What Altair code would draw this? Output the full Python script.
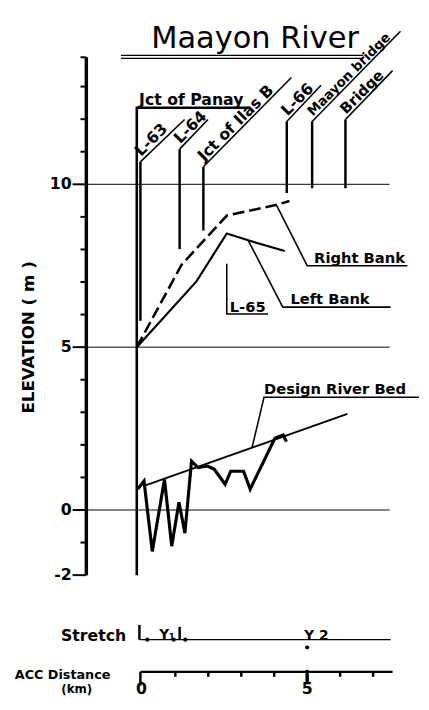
import altair as alt
import pandas as pd

# ---------------- data (distance in km, elevation in m) ----------------
TITLE = "Maayon River"

Y_MINOR = [-1, 1, 2, 3, 4, 6, 7, 8, 9, 11, 12, 13]
Y_LABELS = [10, 5, 0, -2]
Y_TOP = 13.9
GRID_Y = [10, 5, 0]
X_MINOR = [1, 2, 3, 4, 6, 7]
X_LABELS = [0, 5]
X_END = 7.59

RIGHT_KM = [-0.17, 1.19, 2.56, 4.08, 4.46]
RIGHT_EL = [5.0, 7.53, 9.04, 9.37, 9.49]
LEFT_KM = [-0.17, 1.64, 2.56, 3.21, 4.32]
LEFT_EL = [5.0, 7.02, 8.49, 8.28, 7.95]
BED_KM = [-0.14, 0.05, 0.30, 0.67, 0.89, 1.11, 1.29, 1.49, 1.69, 1.98, 2.18,
          2.51, 2.68, 3.07, 3.27, 4.02, 4.27, 4.37]
BED_EL = [0.64, 0.89, -1.27, 0.94, -1.11, 0.24, -0.71, 1.50, 1.30, 1.35, 1.25,
          0.79, 1.19, 1.19, 0.64, 2.20, 2.30, 2.10]
DESIGN_KM = [0.05, 6.22]
DESIGN_EL = [0.74, 2.95]

# landmarks: vertical marker + 45 degree label line
LM_NAMES = ["L-63", "L-64", "Jct of Ilas B", "L-66", "Maayon bridge", "Bridge"]
LM_KM = [-0.06, 1.13, 1.85, 4.38, 5.15, 6.16]
LM_BOT = [5.81, 8.01, 8.58, 9.73, 9.88, 9.88]
LM_TOP = [10.69, 11.08, 10.54, 11.93, 11.93, 11.99]
LM_END_KM = [1.28, 1.99, 4.52, 5.42, 7.83, 7.59]
LM_END_EL = [11.99, 11.99, 13.28, 13.04, 14.70, 13.49]
LM_SIZE = [16, 16, 16, 16, 13.5, 15]

PANAY_KM = [-0.17, -0.17, 3.21]
PANAY_EL = [-2.0, 12.35, 12.35]

RB_LEAD_KM = [4.08, 5.00, 8.04]
RB_LEAD_EL = [9.34, 7.50, 7.50]
LB_LEAD_KM = [3.21, 4.26, 7.53]
LB_LEAD_EL = [8.28, 6.23, 6.23]
DB_LEAD_KM = [3.33, 3.69, 8.39]
DB_LEAD_EL = [1.93, 3.46, 3.46]
L65_KM = [2.56, 2.56, 3.81]
L65_EL = [7.56, 6.02, 6.02]

NOTE_TEXT = ["Right Bank", "Left  Bank", "Design River Bed", "L-65"]
NOTE_KM = [5.21, 4.49, 3.69, 2.65]
NOTE_EL = [7.59, 6.33, 3.55, 6.08]

STRETCH_EL = -3.98
ACC_EL = -4.97

# ---------------- scales: plot area spans page px 8..421 x 8..702 ----------------
PX_PER_KM = 33.6
PX_PER_M = 33.2
X_DOMAIN = [-4.077, -4.077 + 413 / PX_PER_KM]
Y_DOMAIN = [15.211 - 694 / PX_PER_M, 15.211]
xs = alt.Scale(domain=X_DOMAIN, nice=False, zero=False)
ys = alt.Scale(domain=Y_DOMAIN, nice=False, zero=False)
FONT = "DejaVu Sans"


def kx(px):
    return px / PX_PER_KM


def my(px):
    return px / PX_PER_M


def polyline(km, el, **mark):
    df = pd.DataFrame({"km": km, "el": el, "o": list(range(len(km)))})
    return alt.Chart(df).mark_line(color="black", **mark).encode(
        x=alt.X("km:Q", scale=xs, axis=None),
        y=alt.Y("el:Q", scale=ys, axis=None),
        order="o:Q",
    )


def segs(x1, y1, x2, y2, **mark):
    df = pd.DataFrame({"x": x1, "y": y1, "x2": x2, "y2": y2})
    return alt.Chart(df).mark_rule(color="black", **mark).encode(
        x=alt.X("x:Q", scale=xs, axis=None),
        y=alt.Y("y:Q", scale=ys, axis=None),
        x2="x2:Q",
        y2="y2:Q",
    )


def texts(km, el, labels, **mark):
    df = pd.DataFrame({"km": km, "el": el, "t": labels})
    return alt.Chart(df).mark_text(color="black", font=FONT, **mark).encode(
        x=alt.X("km:Q", scale=xs, axis=None),
        y=alt.Y("el:Q", scale=ys, axis=None),
        text="t:N",
    )


AX_KM = -1.70
layers = []

# y axis
layers.append(segs([AX_KM], [-2], [AX_KM], [Y_TOP], strokeWidth=3.5))
layers.append(segs([AX_KM - kx(6)] * (len(Y_MINOR) + 1), Y_MINOR + [Y_TOP],
                   [AX_KM] * (len(Y_MINOR) + 1), Y_MINOR + [Y_TOP], strokeWidth=2))
layers.append(segs([AX_KM - kx(14)] * len(Y_LABELS), Y_LABELS,
                   [AX_KM] * len(Y_LABELS), Y_LABELS, strokeWidth=2))
layers.append(texts([AX_KM - kx(15)] * len(Y_LABELS), Y_LABELS,
                    [str(v) for v in Y_LABELS], align="right", baseline="middle",
                    fontSize=16, fontWeight="bold"))
layers.append(texts([AX_KM - kx(58)], [5.3], ["ELEVATION  ( m )"], angle=270,
                    align="center", baseline="middle", fontSize=17, fontWeight="bold"))

# grid lines
layers.append(segs([AX_KM] * 3, GRID_Y, [7.50] * 3, GRID_Y, strokeWidth=1))

# title
layers.append(texts([3.42], [14.19], [TITLE], align="center", baseline="alphabetic",
                    fontSize=31))
layers.append(segs([-0.65, -0.65], [13.96, 13.87], [6.70, 6.70], [13.96, 13.87],
                   strokeWidth=1.3))

# Jct of Panay
layers.append(polyline(PANAY_KM, PANAY_EL, strokeWidth=2.6))
layers.append(texts([-0.10], [12.35], ["Jct of Panay"], align="left", dy=-3,
                    baseline="alphabetic", fontSize=16, fontWeight="bold"))

# landmark markers
layers.append(segs(LM_KM, LM_BOT, LM_KM, LM_TOP, strokeWidth=2.5))
layers.append(segs(LM_KM, LM_TOP, LM_END_KM, LM_END_EL, strokeWidth=1.6))
for name, k, t, s in zip(LM_NAMES, LM_KM, LM_TOP, LM_SIZE):
    layers.append(texts([k], [t], [name], angle=315, align="left", baseline="alphabetic",
                        dx=4, dy=-3, fontSize=s, fontWeight="bold"))

# banks and river bed
layers.append(polyline(RIGHT_KM, RIGHT_EL, strokeWidth=2.6, strokeDash=[12, 5]))
layers.append(polyline(LEFT_KM, LEFT_EL, strokeWidth=2.2))
layers.append(polyline(BED_KM, BED_EL, strokeWidth=3.2))
layers.append(polyline(DESIGN_KM, DESIGN_EL, strokeWidth=1.8))

# leaders and notes
for lk, le in [(RB_LEAD_KM, RB_LEAD_EL), (LB_LEAD_KM, LB_LEAD_EL),
               (DB_LEAD_KM, DB_LEAD_EL), (L65_KM, L65_EL)]:
    layers.append(polyline(lk, le, strokeWidth=1.6))
layers.append(texts(NOTE_KM[:3], NOTE_EL[:3], NOTE_TEXT[:3], align="left",
                    baseline="alphabetic", fontSize=15, fontWeight="bold"))
layers.append(texts(NOTE_KM[3:], NOTE_EL[3:], NOTE_TEXT[3:], align="left",
                    baseline="alphabetic", fontSize=15, fontWeight="bold"))

# Stretch row
layers.append(texts([-2.47], [STRETCH_EL - my(1)], ["Stretch"], align="left",
                    baseline="alphabetic", fontSize=16, fontWeight="bold"))
layers.append(segs([-0.09], [STRETCH_EL], [7.53], [STRETCH_EL], strokeWidth=1.3))
layers.append(segs([-0.09, 1.13], [STRETCH_EL, STRETCH_EL], [-0.09, 1.13],
                   [STRETCH_EL + my(15), STRETCH_EL + my(13)], strokeWidth=2.5))
dots = pd.DataFrame({"km": [0.15, 0.95, 1.30, 5.0],
                     "el": [STRETCH_EL, STRETCH_EL, STRETCH_EL, STRETCH_EL - my(8)]})
layers.append(alt.Chart(dots).mark_point(filled=True, color="black", size=18, opacity=1).encode(
    x=alt.X("km:Q", scale=xs, axis=None), y=alt.Y("el:Q", scale=ys, axis=None)))
layers.append(texts([0.51, 4.91], [STRETCH_EL + my(1), STRETCH_EL], ["Y", "Y 2"],
                    align="left", baseline="alphabetic", fontSize=14, fontWeight="bold"))
layers.append(texts([0.80], [STRETCH_EL], ["1"], align="left", baseline="alphabetic",
                    fontSize=9, fontWeight="bold"))

# ACC distance axis
layers.append(segs([-0.06], [ACC_EL], [X_END], [ACC_EL], strokeWidth=2.5))
layers.append(segs([-0.06], [ACC_EL], [-0.06], [ACC_EL - my(14)], strokeWidth=2.5))
layers.append(segs(X_MINOR, [ACC_EL] * len(X_MINOR), X_MINOR,
                   [ACC_EL - my(5)] * len(X_MINOR), strokeWidth=2.5))
layers.append(segs([5], [ACC_EL + my(2)], [5], [ACC_EL - my(12)], strokeWidth=3.5))
layers.append(texts([X_LABELS[0] - 0.03, X_LABELS[1]], [-5.66, -5.66],
                    [str(v) for v in X_LABELS], align="center", baseline="alphabetic",
                    fontSize=16, fontWeight="bold"))
layers.append(texts([-3.87], [-5.20], ["ACC Distance"], align="left",
                    baseline="alphabetic", fontSize=13, fontWeight="bold"))
layers.append(texts([-1.99], [-5.62], ["(km)"], align="center",
                    baseline="alphabetic", fontSize=12, fontWeight="bold"))

chart = alt.layer(*layers).properties(
    width=413,
    height=694,
    padding={"left": 0, "top": 0, "right": 8, "bottom": 0},
    autosize=alt.AutoSizeParams(type="none"),
    background="white",
).configure_view(stroke=None)

chart.save("out.html", embed_options={"renderer": "svg", "actions": False})
